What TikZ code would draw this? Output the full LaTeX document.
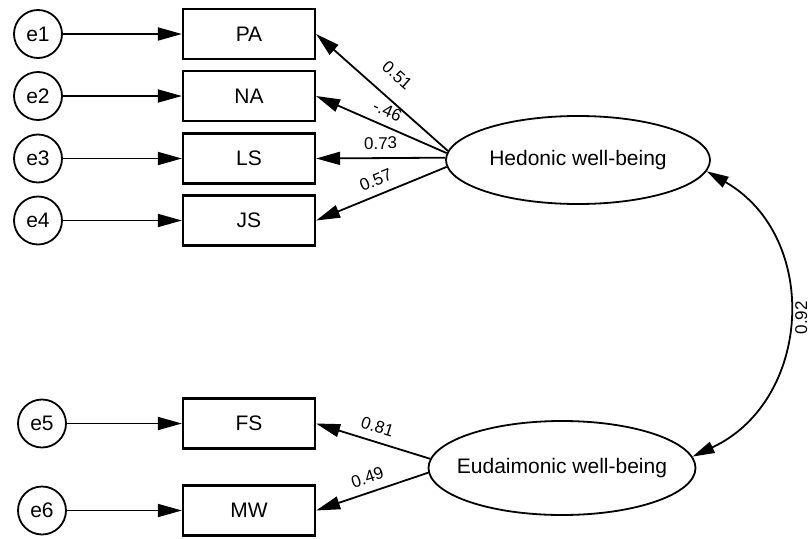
\documentclass[tikz,border=0pt]{standalone}
\usepackage{fontspec}
\setmainfont{Liberation Sans}
\usetikzlibrary{arrows.meta,shapes.geometric}

\begin{document}
\begin{tikzpicture}[x=1pt,y=-1pt,
  font=\fontsize{21}{25}\selectfont,
  errc/.style={circle, draw, line width=1.8pt, minimum size=48pt, inner sep=0pt},
  obsbox/.style={rectangle, draw, line width=2.2pt, minimum width=132pt, minimum height=50pt, inner sep=0pt},
  latent/.style={ellipse, draw, line width=1.8pt, inner sep=0pt},
  reg/.style={line width=1.8pt, -{Triangle[length=24pt,width=13pt]}},
  regback/.style={line width=1.8pt, {Triangle[length=24pt,width=13pt]}-},
  covar/.style={line width=1.8pt, {Triangle[length=22pt,width=12pt]}-{Triangle[length=22pt,width=12pt]}},
  coeffont/.style={font=\fontsize{17}{20}\selectfont},
  coef/.style={coeffont, sloped, above=6pt, inner sep=2pt}
]
% canvas
\useasboundingbox[fill=white] (0,0) rectangle (811,538);

% error terms
\node[errc] (e1) at (38,34)    {e1};
\node[errc] (e2) at (38,96)    {e2};
\node[errc] (e3) at (38,158.5) {e3};
\node[errc] (e4) at (38,220.5) {e4};
\node[errc] (e5) at (42,423.5) {e5};
\node[errc] (e6) at (42,510.5) {e6};

% observed indicators
\node[obsbox] (PA) at (249,34)    {PA};
\node[obsbox] (NA) at (249,96)    {NA};
\node[obsbox] (LS) at (249,158.5) {LS};
\node[obsbox] (JS) at (249,220.5) {JS};
\node[obsbox] (FS) at (249,423.5) {FS};
\node[obsbox] (MW) at (249,510.5) {MW};

% latent factors
\node[latent, minimum width=264pt, minimum height=88pt] (hed) at (578,160) {Hedonic well-being};
\node[latent, minimum width=267pt, minimum height=94pt, inner xsep=-14pt] (eud) at (562,468) {Eudaimonic well-being};

% error paths
\draw[reg] (e1) -- (PA);
\draw[reg] (e2) -- (NA);
\draw[reg] (e3) -- (LS);
\draw[reg] (e4) -- (JS);
\draw[reg] (e5) -- (FS);
\draw[reg] (e6) -- (MW);

% factor loadings
\draw[regback] (PA.east) -- node[coef, above=8pt] {0.51} (hed.176);
\draw[regback] (NA.east) -- node[coef] {-.46} (hed.177.5);
\draw[regback] (LS.east) -- node[coef] {0.73} (hed.179.5);
\draw[regback] (JS.east) -- node[coef] {0.57} (hed.183);
\draw[regback] (FS.east) -- node[coef] {0.81} (eud.176.5);
\draw[regback] (MW.east) -- node[coef] {0.49} (eud.182.5);

% factor covariance
\draw[covar] (hed.355) .. controls (821,237) and (812,401) ..
  node[pos=0.5, anchor=north, rotate=90, inner sep=7pt, coeffont] {0.92} (eud.5);
\end{tikzpicture}
\end{document}
